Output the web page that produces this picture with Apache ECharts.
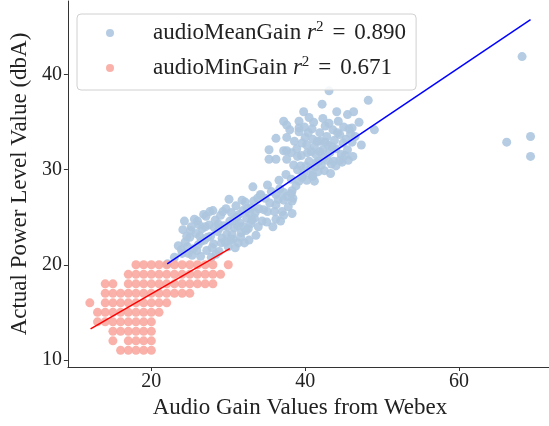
<!DOCTYPE html>
<html><head><meta charset="utf-8">
<script src="https://cdn.jsdelivr.net/npm/echarts@6/dist/echarts.min.js"></script>
<style>html,body{margin:0;padding:0;background:#fff}#c{width:549px;height:426px}</style>
</head><body><div id="c"></div><script>
const seriesNames = ['audioMeanGain', 'audioMinGain'];
const r2Values = ['0.890', '0.671'];
const xTicks = [20, 40, 60];
const yTicks = [10, 20, 30, 40];
const xLabel = 'Audio Gain Values from Webex';
const yLabel = 'Actual Power Level Value (dbA)';

const meanGainPoints = [
  [22.1,20.1],[23.0,20.8],[23.9,21.6],[24.1,23.7],[24.4,22.4],[24.8,21.2],[25.0,22.9],[25.2,24.0],[25.5,21.7],
  [25.8,23.3],[26.0,24.6],[26.1,22.1],[26.4,20.9],[26.6,23.8],[26.9,22.6],[27.1,25.1],[27.2,21.5],[27.5,24.2],
  [27.7,23.0],[28.0,25.7],[28.1,22.2],[28.3,24.7],[28.6,23.5],[28.8,21.4],[29.0,25.2],[29.2,22.8],[29.4,24.1],
  [29.7,25.9],[29.8,23.2],[30.0,21.9],[30.2,24.6],[30.4,25.5],[30.6,22.7],[30.8,23.9],[31.0,26.2],[31.1,25.0],
  [31.3,22.3],[31.5,24.4],[31.7,23.4],[31.9,25.7],[32.1,22.3],[32.2,26.6],[32.4,24.9],[32.6,23.8],[32.8,25.4],
  [33.0,26.0],[33.2,28.2],[33.4,24.9],[33.6,23.1],[33.8,27.0],[34.2,27.4],[34.4,24.6],[34.6,25.8],[35.1,28.4],
  [35.1,25.6],[35.4,26.5],[35.8,24.0],[36.2,27.4],[36.2,26.3],[36.2,24.8],[36.7,28.0],[37.0,25.6],[37.2,26.8],
  [37.2,25.2],[37.6,27.2],[38.3,27.8],[38.3,26.7],[38.3,25.4],[38.8,28.3],
  [23.5,22.0],[24.6,23.0],[25.3,21.0],[26.3,23.0],[27.0,24.0],[27.9,21.8],[28.9,23.9],[29.6,22.4],[30.5,23.2],
  [31.2,24.1],[32.0,24.0],[32.9,24.3],[34.2,27.3],[37.2,27.6],[38.2,27.5],[38.4,27.0],
  [24.0,21.2],[24.3,24.6],[24.7,21.9],[25.1,23.6],[25.6,24.8],[25.9,21.5],[26.2,24.2],[26.5,22.5],[26.8,25.3],
  [27.3,22.9],[27.6,25.6],[27.8,20.8],[28.2,23.9],[28.4,21.1],[28.7,24.3],[29.1,22.3],[29.3,25.6],[29.9,24.0],
  [30.1,26.9],[30.3,22.6],[30.7,24.7],[30.9,21.8],[31.4,25.3],[31.6,22.9],[31.8,26.8],[32.3,23.6],[32.5,25.9],
  [32.7,22.6],[33.1,24.7],[33.3,26.7],[33.5,25.5],[33.9,24.0],[34.0,25.9],[34.8,27.0],[35.0,24.5],[35.6,27.7],
  [36.0,25.6],[36.5,26.9],[37.8,26.1],[36.8,24.6],
  [35.3,31.1],[35.3,32.1],[36.2,31.1],[37.2,32.0],[37.6,31.1],[37.6,32.0],[36.2,33.3],[37.6,33.4],[37.2,35.1],
  [37.6,34.7],[39.2,35.1],[39.2,34.4],[39.2,34.0],[38.6,33.0],[38.9,32.2],[39.0,31.4],[39.4,30.4],[39.8,29.6],
  [40.0,33.4],[40.2,32.6],[40.3,31.8],[40.5,30.9],[40.7,30.1],[40.9,34.3],[41.0,33.2],[41.2,32.4],[41.4,31.6],
  [41.5,30.8],[41.7,29.8],[41.9,33.9],[42.0,33.0],[42.2,36.9],[42.3,32.1],[42.4,31.3],[42.6,34.6],[42.8,33.5],
  [43.0,32.6],[43.1,38.3],[43.2,31.8],[43.4,30.6],[43.6,34.2],[43.8,33.1],[44.0,32.2],[44.1,36.1],[44.3,35.1],
  [44.5,33.7],[44.7,31.6],[45.0,34.5],[45.3,33.2],[45.5,35.8],[45.5,32.1],[45.9,33.8],[46.1,34.4],[46.1,32.9],
  [46.2,31.4],[46.3,36.1],[47.3,32.6],[48.2,37.3],[49.0,34.2],[47.0,35.0],
  [36.6,28.9],[37.5,29.5],[38.2,29.0],[39.2,28.8],[39.6,29.2],[40.2,28.9],[41.0,29.3],[41.2,28.8],[41.8,30.9],
  [42.5,29.9],[43.3,29.6],[44.0,30.4],[44.8,30.8],[45.6,31.0],
  [38.5,30.5],[39.0,30.0],[39.5,31.5],[39.6,32.8],[39.9,34.5],[40.1,30.4],[40.4,33.9],[40.8,31.9],[40.9,29.4],
  [41.1,35.0],[41.3,30.3],[41.6,33.0],[41.9,31.9],[42.1,30.5],[42.3,35.4],[42.6,32.9],[42.9,31.0],[43.1,34.9],
  [43.5,32.4],[43.7,30.9],[44.2,33.9],[44.5,31.0],[44.9,32.8],[45.2,31.5],[45.7,34.3],[46.5,33.5],[39.8,36.1],
  [40.5,35.5],[38.2,31.8],[38.0,34.2],
  [68.2,41.9],[66.2,32.9],[69.3,33.5],[69.3,31.4]
];

const minGainPoints = [
  [18,20],[19,20],[20,20],[21,20],[22,20],[23,20],[24,20],[25,20],[26,20],[27,20],[28,20],[30,20],
  [17,19],[18,19],[19,19],[20,19],[21,19],[22,19],[23,19],[24,19],[25,19],[26,19],[27,19],[28,19],[29,19],
  [14,18],[15,18],[17,18],[18,18],[19,18],[20,18],[21,18],[22,18],[23,18],[24,18],[25,18],[26,18],[27,18],[28,18],
  [14,17],[15,17],[16,17],[17,17],[18,17],[19,17],[20,17],[21,17],[22,17],[23,17],[24,17],[25,17],
  [12,16],[14,16],[15,16],[16,16],[17,16],[18,16],[19,16],[20,16],[21,16],[22,16],
  [13,15],[14,15],[15,15],[16,15],[17,15],[18,15],[19,15],[20,15],[21,15],
  [13,14],[14,14],[15,14],[16,14],[17,14],[18,14],[19,14],[20,14],
  [15,13],[16,13],[17,13],[18,13],[19,13],[20,13],
  [15,12],[17,12],[18,12],[19,12],[20,12],
  [16,11],[17,11],[18,11],[19,11],[20,11]
];

const meanFitLine = [[22.06,20.1],[69.3,45.8]];
const minFitLine = [[12.1,13.26],[30.2,21.7]];

const FONT = 'Liberation Serif';
const chart = echarts.init(document.getElementById('c'), null, {renderer: 'canvas'});
const axisCommon = {
  type: 'value',
  splitLine: {show: false},
  axisLine: {show: true, onZero: false, lineStyle: {color: '#333', width: 1}},
  nameLocation: 'middle'
};
chart.setOption({
  animation: false,
  backgroundColor: '#fff',
  grid: {left: 64, right: 0, top: 1, bottom: 59, containLabel: false},
  xAxis: Object.assign({}, axisCommon, {
    min: 9.15, max: 71.7,
    name: xLabel, nameGap: 27,
    nameTextStyle: {fontFamily: FONT, fontSize: 23, color: '#222', padding: [0, 17, 0, 0]},
    axisTick: {show: true, length: 4, lineStyle: {color: '#333'}, customValues: xTicks},
    axisLabel: {customValues: xTicks, fontFamily: FONT, fontSize: 20, color: '#222', margin: 5}
  }),
  yAxis: Object.assign({}, axisCommon, {
    min: 9.25, max: 47.75,
    name: yLabel, nameGap: 32,
    nameTextStyle: {fontFamily: FONT, fontSize: 23, color: '#222'},
    axisTick: {show: true, length: 4, lineStyle: {color: '#333'}, customValues: yTicks},
    axisLabel: {customValues: yTicks, fontFamily: FONT, fontSize: 20, color: '#222', margin: 6}
  }),
  legend: {
    data: seriesNames,
    orient: 'vertical',
    left: 77, top: 14,
    padding: [6, 10, 9, 29],
    itemGap: 9,
    itemWidth: 8, itemHeight: 8,
    icon: 'circle',
    backgroundColor: 'rgba(255,255,255,0.85)',
    borderColor: '#d0d0d0', borderWidth: 1, borderRadius: 4,
    formatter: function (name) {
      const i = seriesNames.indexOf(name);
      return '{a|' + name + ' }{r|r}{s|2}{e|=}{b|' + r2Values[i] + '}';
    },
    textStyle: {
      fontFamily: FONT, fontSize: 23, color: '#222', lineHeight: 26,
      rich: {
        a: {fontFamily: FONT, fontSize: 23, color: '#222', padding: [0, 0, 0, 34], lineHeight: 26},
        r: {fontFamily: FONT, fontSize: 23, fontStyle: 'italic', color: '#222', lineHeight: 26},
        s: {fontFamily: FONT, fontSize: 15, color: '#222', verticalAlign: 'top', lineHeight: 15},
        e: {fontFamily: FONT, fontSize: 23, color: '#222', lineHeight: 26, padding: [0, 9, 0, 9]},
        b: {fontFamily: FONT, fontSize: 23, color: '#222', lineHeight: 26}
      }
    }
  },
  series: [
    {
      name: seriesNames[0], type: 'scatter', data: meanGainPoints, symbolSize: 9, z: 2,
      itemStyle: {color: '#adc6df', opacity: 0.9}
    },
    {
      name: seriesNames[1], type: 'scatter', data: minGainPoints, symbolSize: 9, z: 3,
      itemStyle: {color: '#f8a8a0', opacity: 0.9}
    },
    {
      name: 'meanFit', type: 'line', data: meanFitLine, showSymbol: false, symbol: 'none', z: 4,
      lineStyle: {color: '#0000ff', width: 1.5}
    },
    {
      name: 'minFit', type: 'line', data: minFitLine, showSymbol: false, symbol: 'none', z: 4,
      lineStyle: {color: '#ff0000', width: 1.5}
    }
  ]
});
</script></body></html>
